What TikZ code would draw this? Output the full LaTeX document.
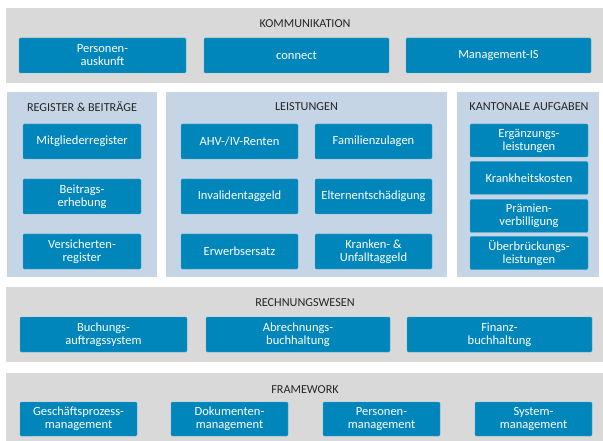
\documentclass[tikz,border=0pt]{standalone}
\usepackage{fontspec}
\setmainfont{Carlito}
\definecolor{modblue}{HTML}{0086BB}
\definecolor{panelgray}{HTML}{D9D9D9}
\definecolor{panelblue}{HTML}{C5D5E6}
\begin{document}
\begin{tikzpicture}[x=1pt, y=-1pt,
    panel/.style={fill=#1, draw=none, inner sep=0pt, anchor=north west},
    titel/.style={font=\fontsize{12.2}{13}\selectfont, text=black!85},
    modul/.style={fill=modblue, draw=modblue!70!white, line width=0.4pt,
        rounded corners=1.2pt, text=white, align=center, inner sep=0pt,
        font=\fontsize{12.5}{13}\selectfont}]
    \useasboundingbox (0,0) rectangle (603,441);
    % Kommunikation
    \node[panel=panelgray, minimum width=597, minimum height=75] (komm) at (6,8) {};
    \node[titel] (kommT) at (305,24) {KOMMUNIKATION};
    \node[modul, minimum width=167, minimum height=35] (persA) at (102.5,55.5) {Personen-\\auskunft};
    \node[modul, minimum width=185, minimum height=35] (conn) at (296.5,55.5) {connect};
    \node[modul, minimum width=185, minimum height=35] (mis) at (498.5,55.5) {Management-IS};
    % Register & Beitraege
    \node[panel=panelblue, minimum width=150, minimum height=185] (reg) at (7,92) {};
    \node[titel] (regT) at (82,107) {REGISTER \& BEITRÄGE};
    \node[modul, minimum width=118, minimum height=35] (mitg) at (82,141.5) {Mitgliederregister};
    \node[modul, minimum width=118, minimum height=35] (beit) at (82,196.5) {Beitrags-\\erhebung};
    \node[modul, minimum width=118, minimum height=35] (vers) at (82,251.5) {Versicherten-\\register};
    % Leistungen
    \node[panel=panelblue, minimum width=281, minimum height=185] (leis) at (166,92) {};
    \node[titel] (leisT) at (306.5,107) {LEISTUNGEN};
    \node[modul, minimum width=117, minimum height=35] (ahv) at (239.5,141.5) {AHV-/IV-Renten};
    \node[modul, minimum width=117, minimum height=35] (inv) at (239.5,196.5) {Invalidentaggeld};
    \node[modul, minimum width=117, minimum height=35] (erw) at (239.5,251.5) {Erwerbsersatz};
    \node[modul, minimum width=117, minimum height=35] (fam) at (373.5,141.5) {Familienzulagen};
    \node[modul, minimum width=117, minimum height=35] (elt) at (373.5,196.5) {Elternentschädigung};
    \node[modul, minimum width=117, minimum height=35] (kuv) at (373.5,251.5) {Kranken- \&\\Unfalltaggeld};
    % Kantonale Aufgaben
    \node[panel=panelblue, minimum width=142, minimum height=185] (kant) at (457,92) {};
    \node[titel] (kantT) at (529,107) {KANTONALE AUFGABEN};
    \node[modul, minimum width=118, minimum height=33] (el) at (529,140.5) {Ergänzungs-\\leistungen};
    \node[modul, minimum width=118, minimum height=33] (kk) at (529,178) {Krankheitskosten};
    \node[modul, minimum width=118, minimum height=33] (pv) at (529,216) {Prämien-\\verbilligung};
    \node[modul, minimum width=118, minimum height=33] (ul) at (529,253) {Überbrückungs-\\leistungen};
    % Rechnungswesen
    \node[panel=panelgray, minimum width=597, minimum height=75] (rw) at (6,287) {};
    \node[titel] (rwT) at (305,303) {RECHNUNGSWESEN};
    \node[modul, minimum width=167, minimum height=35] (bas) at (103.5,334.5) {Buchungs-\\auftragssystem};
    \node[modul, minimum width=184, minimum height=35] (abh) at (298,334.5) {Abrechnungs-\\buchhaltung};
    \node[modul, minimum width=185, minimum height=35] (fibu) at (499.5,334.5) {Finanz-\\buchhaltung};
    % Framework
    \node[panel=panelgray, minimum width=597, minimum height=68] (fw) at (6,373) {};
    \node[titel] (fwT) at (305,390) {FRAMEWORK};
    \node[modul, minimum width=117, minimum height=34] (gpm) at (78.5,419) {Geschäftsprozess-\\management};
    \node[modul, minimum width=117, minimum height=34] (dm) at (229.5,419) {Dokumenten-\\management};
    \node[modul, minimum width=117, minimum height=34] (pm) at (381.5,419) {Personen-\\management};
    \node[modul, minimum width=117, minimum height=34] (sm) at (533.5,419) {System-\\management};
\end{tikzpicture}
\end{document}
